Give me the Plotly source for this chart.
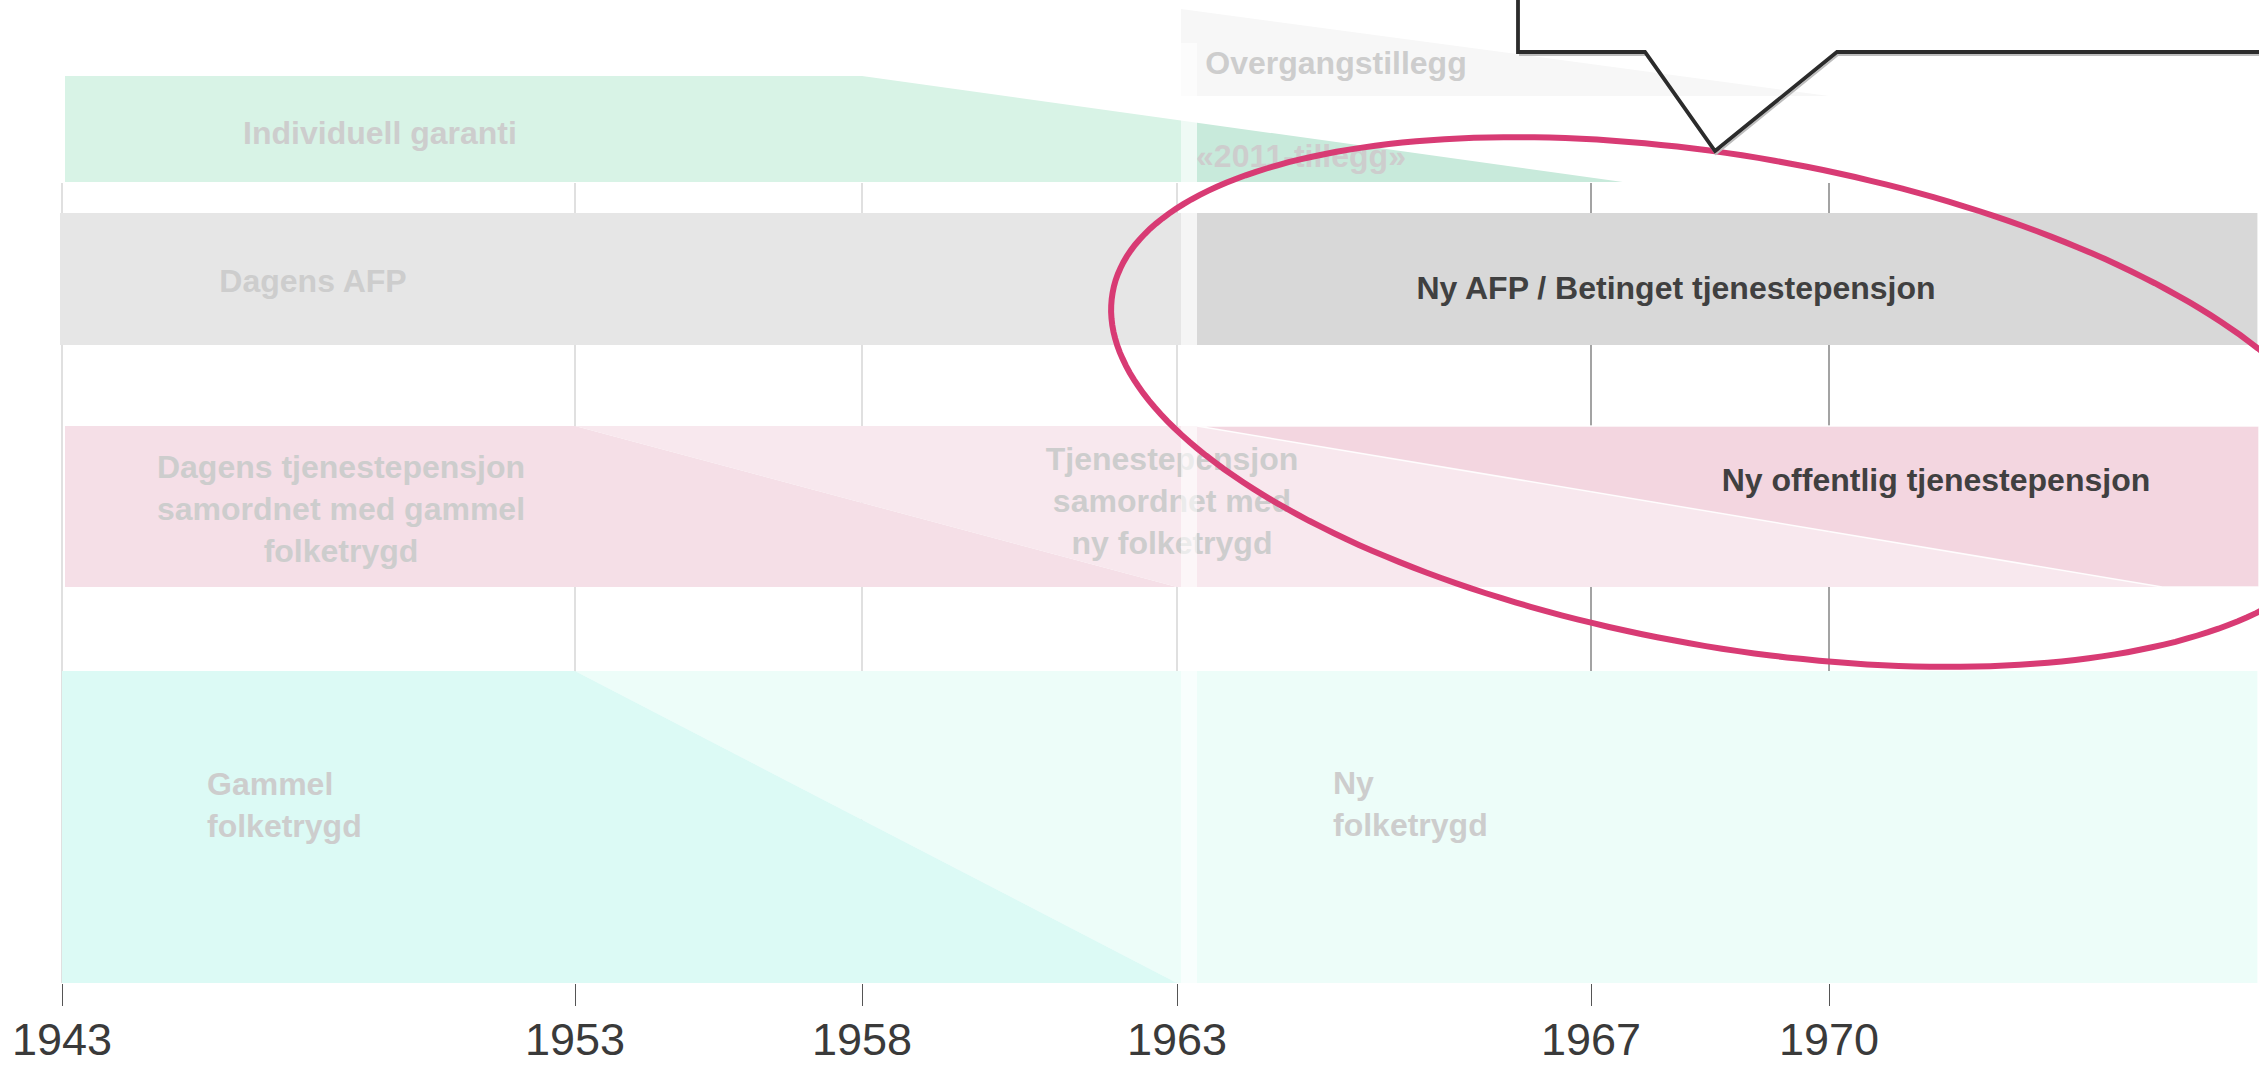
import numpy as np
import plotly.graph_objects as go

# ---------------- data (birth cohorts / years) ----------------
TICK_YEARS = [1943, 1953, 1958, 1963, 1967, 1970]
START_YEAR = 1943
END_YEAR = 1975.4            # open right end of the diagram
REFORM_YEAR = 1963           # first cohort in the new system
OLD_PHASEOUT_START = 1953    # old folketrygd / tjenestepensjon starts phasing out
IG_FULL_UNTIL = 1958         # individuell garanti full until
IG_GONE_AT = 1967.4          # individuell garanti / 2011-tillegg gone
OT_END = 1970                # overgangstillegg gone
NEW_TP_FULL_AT = 1974.2      # ny offentlig tjenestepensjon fully phased in

LABELS_FADED = ["Overgangstillegg", "Individuell garanti", "«2011-tillegg»", "Dagens AFP",
                "Dagens tjenestepensjon<br>samordnet med gammel<br>folketrygd",
                "Tjenestepensjon<br>samordnet med<br>ny folketrygd",
                "Gammel<br>folketrygd", "Ny<br>folketrygd"]
LABELS_DARK = ["Ny AFP / Betinget tjenestepensjon", "Ny offentlig tjenestepensjon"]

# ---------------- layout / style ----------------
W, H = 2259, 1067
PLOT_BOTTOM = 983
TICK_POS = [62, 575, 862, 1177, 1591, 1829]   # horizontal placement of cohort ticks
GAP = 20
ROW = {"ot": (9, 96), "ig": (76, 182), "afp": (213, 345), "tp": (426, 587), "ft": (671, 983)}
GRID_TOP = 183
FONT = "Liberation Sans, Arial, sans-serif"
LABEL_SIZE = 32
FADED = "#cdcdcd"
DARK = "#404040"
COL = {
    "ot": "#f7f7f7", "ig": "#d8f3e6", "t2011": "#c8eadb",
    "afp_old": "#e6e6e6", "afp_new": "#d8d8d8",
    "tp_old": "#f5dfe7", "tp_mid": "#f8e8ee", "tp_new": "#f3d6e0",
    "ft_old": "#dcfaf5", "ft_new": "#edfdf9",
}


def X(year):
    ys, ps = TICK_YEARS, TICK_POS
    if year > ys[-1]:
        return ps[-1] + (year - ys[-1]) * (ps[-1] - ps[-2]) / (ys[-1] - ys[-2])
    return float(np.interp(year, ys, ps))


x0 = X(START_YEAR)
xend = X(END_YEAR)
x63 = X(REFORM_YEAR)
x63r = x63 + GAP

fig = go.Figure()


def add_poly(pts, color, line=None):
    xs = [p[0] for p in pts] + [pts[0][0]]
    ys = [p[1] for p in pts] + [pts[0][1]]
    fig.add_trace(go.Scatter(
        x=xs, y=ys, mode="lines", fill="toself", fillcolor=color,
        line=line or dict(width=0, color=color), hoverinfo="skip", showlegend=False))


# Overgangstillegg
t, b = ROW["ot"]
add_poly([(x63 + 4, t), (X(OT_END), b), (x63 + 4, b)], COL["ot"])

# Individuell garanti / 2011-tillegg
t, b = ROW["ig"]
xs0, xs1 = X(IG_FULL_UNTIL), X(IG_GONE_AT)
def slope_y(x):
    return t + (x - xs0) / (xs1 - xs0) * (b - t)
add_poly([(x0 + 3, t), (xs0, t), (x63r, slope_y(x63r)), (x63r, b), (x0 + 3, b)], COL["ig"])
add_poly([(x63r, slope_y(x63r)), (xs1, b), (x63r, b)], COL["t2011"])

# AFP
t, b = ROW["afp"]
add_poly([(x0 - 2, t), (x63r, t), (x63r, b), (x0 - 2, b)], COL["afp_old"])
add_poly([(x63r, t), (xend, t), (xend, b), (x63r, b)], COL["afp_new"])

# Tjenestepensjon
t, b = ROW["tp"]
x53 = X(OLD_PHASEOUT_START)
xtp = X(NEW_TP_FULL_AT)
add_poly([(x0 + 3, t), (x53, t), (x63, b), (x0 + 3, b)], COL["tp_old"])
add_poly([(x53, t), (x63r, t), (xtp, b), (x63, b)], COL["tp_mid"])
add_poly([(x63r, t), (W, t), (W, b), (xtp, b)], COL["tp_new"],
         line=dict(width=1.5, color="rgba(255,255,255,0.9)"))

# Folketrygd
t, b = ROW["ft"]
add_poly([(x53, t), (xend, t), (xend, b), (x63, b)], COL["ft_new"])
add_poly([(x0, t), (x53, t), (x63, b), (x0, b)], COL["ft_old"])

# ---------------- labels ----------------
LABEL_POS = [
    (1336, 66, "middle center"),
    (380, 136, "middle center"),
    (1301, 159, "middle center"),
    (313, 284, "middle center"),
    (341, 512, "middle center"),
    (1172, 504, "middle center"),
    (207, 808, "middle right"),
    (1333, 807, "middle right"),
]
for (lx, ly, pos), txt in zip(LABEL_POS, LABELS_FADED):
    fig.add_trace(go.Scatter(
        x=[lx], y=[ly], mode="text", text=[txt], textposition=pos,
        textfont=dict(family=FONT, size=LABEL_SIZE, color=FADED, weight="bold"),
        hoverinfo="skip", showlegend=False))

DARK_POS = [(1676, 291), (1936, 483)]
for (lx, ly), txt in zip(DARK_POS, LABELS_DARK):
    fig.add_trace(go.Scatter(
        x=[lx], y=[ly], mode="text", text=[txt], textposition="middle center",
        textfont=dict(family=FONT, size=LABEL_SIZE, color=DARK, weight="bold"),
        hoverinfo="skip", showlegend=False))

# ---------------- shapes ----------------
shapes = []
for yr in TICK_YEARS:
    shapes.append(dict(type="line", xref="x", yref="y", x0=X(yr), x1=X(yr), y0=GRID_TOP, y1=PLOT_BOTTOM,
                       line=dict(color="#cccccc" if yr <= REFORM_YEAR else "#666666", width=1.2),
                       layer="below"))

# transition strip at the reform cohort
shapes.append(dict(type="rect", xref="x", yref="y", x0=x63 + 4, x1=x63r, y0=43, y1=PLOT_BOTTOM,
                   fillcolor="white", opacity=0.6, line=dict(width=0), layer="above"))

# highlight ellipse
CX, CY, A, B, ANG = 1732, 402, 629, 245, np.deg2rad(10)
tt = np.linspace(0, 2 * np.pi, 241)
ex = CX + A * np.cos(tt) * np.cos(ANG) - B * np.sin(tt) * np.sin(ANG)
ey = CY + A * np.cos(tt) * np.sin(ANG) + B * np.sin(tt) * np.cos(ANG)
path = "M " + " L ".join(f"{a:.1f},{c:.1f}" for a, c in zip(ex, ey)) + " Z"
shapes.append(dict(type="path", xref="x", yref="y", path=path,
                   line=dict(color="#d83b74", width=6), layer="above"))

# callout bubble (top, cut off)
CALLOUT = [(1518, -60), (1518, 52), (1645, 52), (1715, 151), (1837, 52), (2330, 52)]
shadow = "M " + " L ".join(f"{a + 1},{c + 3}" for a, c in CALLOUT[1:])
shapes.append(dict(type="path", xref="x", yref="y", path=shadow,
                   line=dict(color="#bdbdbd", width=2), layer="above"))
cpath = "M " + " L ".join(f"{a},{c}" for a, c in CALLOUT)
shapes.append(dict(type="path", xref="x", yref="y", path=cpath,
                   line=dict(color="#2b2b2b", width=3.8), layer="above"))

fig.update_layout(
    template="none",
    width=W, height=H,
    margin=dict(l=0, r=0, t=0, b=H - PLOT_BOTTOM, pad=0),
    paper_bgcolor="white", plot_bgcolor="white",
    showlegend=False,
    shapes=shapes,
    font=dict(family=FONT),
    xaxis=dict(range=[0, W], tickmode="array",
               tickvals=[X(y) for y in TICK_YEARS], ticktext=[str(y) for y in TICK_YEARS],
               ticks="outside", ticklen=22, tickwidth=1.2, tickcolor="#555555",
               ticklabelstandoff=-5,
               showgrid=False, zeroline=False, showline=False, automargin=False,
               tickfont=dict(family=FONT, size=45, color="#3a3a3a"), fixedrange=True),
    yaxis=dict(range=[PLOT_BOTTOM, 0], visible=False, showgrid=False, zeroline=False,
               automargin=False, fixedrange=True),
)

fig.write_html("out.html", config={"displayModeBar": False},
               post_script="document.body.style.margin='0';document.body.style.overflow='hidden';")
